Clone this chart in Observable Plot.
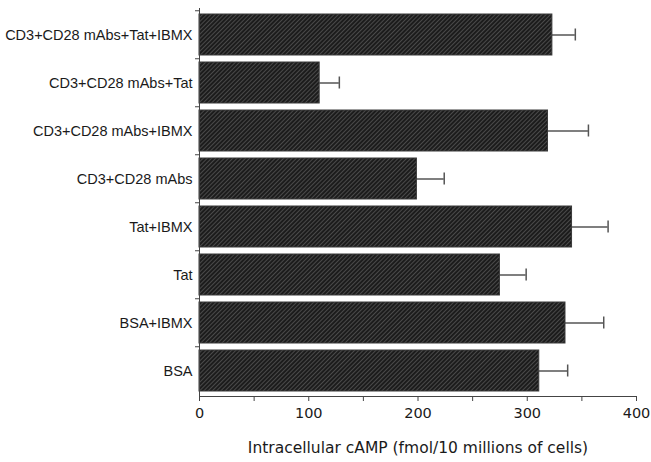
<!DOCTYPE html>
<html>
<head>
<meta charset="utf-8">
<script src="https://cdn.jsdelivr.net/npm/d3@7"></script>
<script src="https://cdn.jsdelivr.net/npm/@observablehq/plot@0.6"></script>
<style>
  html, body { margin: 0; padding: 0; background: #fff; }
  #chart svg { display: block; }
</style>
</head>
<body>
<div id="chart"></div>
<script>
const categories = [
  "CD3+CD28 mAbs+Tat+IBMX",
  "CD3+CD28 mAbs+Tat",
  "CD3+CD28 mAbs+IBMX",
  "CD3+CD28 mAbs",
  "Tat+IBMX",
  "Tat",
  "BSA+IBMX",
  "BSA"
];
const values = [323, 110, 319, 199, 341, 275, 335, 311];
const errors = [21, 18, 37, 25, 33, 24, 35, 26];
const xTickLabels = [0, 100, 200, 300, 400];
const xMinorTicks = [0, 50, 100, 150, 200, 250, 300, 350, 400];
const xTitle = "Intracellular cAMP (fmol/10 millions of cells)";

const data = categories.map((c, i) => ({cat: c, value: values[i], err: values[i] + errors[i]}));

const plot = Plot.plot({
  width: 651,
  height: 462,
  marginLeft: 199,
  marginRight: 15,
  marginTop: 8,
  marginBottom: 66,
  style: {background: "#fff"},
  x: {domain: [0, 400]},
  y: {domain: categories, paddingInner: 0.155, paddingOuter: 0.0775},
  marks: [
    Plot.ruleY(data, {y: "cat", x1: "value", x2: "err", stroke: "#555", strokeWidth: 1.5}),
    Plot.tickX(data, {x: "err", y: "cat", stroke: "#555", strokeWidth: 1.5, insetTop: 14.5, insetBottom: 14.5}),
    Plot.barX(data, {y: "cat", x: "value", fill: "url(#hatch)", stroke: "#3a3a3a", strokeWidth: 1}),
    Plot.axisY({tickSize: 0, tickPadding: 7, fontSize: 14.5, fontFamily: "Liberation Sans, Arial, sans-serif", color: "#1a1a1a", label: null}),
    Plot.axisY({tickSize: 4, dy: -24.25, text: null, stroke: "#444", label: null}),
    Plot.axisX({ticks: xMinorTicks, tickSize: 5, text: null, stroke: "#444", label: null}),
    Plot.axisX({ticks: xTickLabels, tickSize: 0, tickPadding: 11, fontSize: 14.5, fontFamily: "DejaVu Sans, sans-serif", color: "#1a1a1a", label: null}),
    Plot.frame({anchor: "bottom", stroke: "#444"}),
    Plot.frame({anchor: "left", stroke: "#444"}),
    Plot.text([xTitle], {text: d => d, frameAnchor: "bottom", dy: 56, fontSize: 15.5, fontFamily: "DejaVu Sans, sans-serif", fill: "#1a1a1a"})
  ]
});

const svg = d3.select(plot);
const defs = svg.insert("defs", ":first-child");
const pat = defs.append("pattern")
  .attr("id", "hatch")
  .attr("patternUnits", "userSpaceOnUse")
  .attr("width", 3)
  .attr("height", 3)
  .attr("patternTransform", "rotate(45)");
pat.append("rect").attr("width", 3).attr("height", 3).attr("fill", "#1c1c1c");
pat.append("line").attr("x1", 0.5).attr("y1", 0).attr("x2", 0.5).attr("y2", 3)
  .attr("stroke", "#4a4a4a").attr("stroke-width", 1);

document.getElementById("chart").appendChild(plot);
</script>
</body>
</html>
